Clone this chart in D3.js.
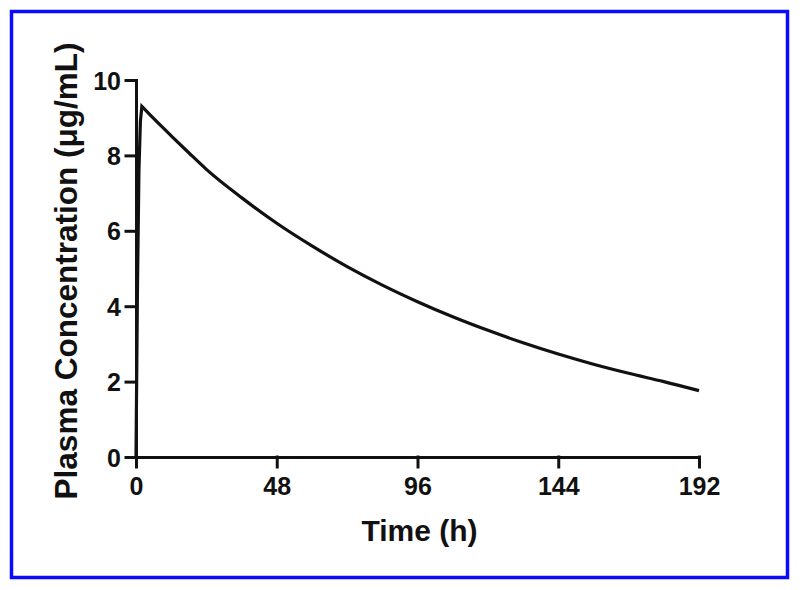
<!DOCTYPE html>
<html>
<head>
<meta charset="utf-8">
<script src="https://cdn.jsdelivr.net/npm/d3@7"></script>
<style>
  html, body { margin: 0; padding: 0; background: #fff; }
  svg { display: block; }
  text { font-family: "Liberation Sans", Arial, Helvetica, sans-serif; font-weight: bold; fill: #111; }
</style>
</head>
<body>
<script>
// Data
const timeH = [0, 0.5, 1, 1.5, 2, 6, 12, 18, 24, 36, 48, 60, 72, 84, 96, 108, 120, 132, 144, 156, 168, 180, 192];
const concentration = [0, 4.5, 7.6, 8.9, 9.3, 8.98, 8.52, 8.07, 7.63, 6.88, 6.2, 5.6, 5.05, 4.56, 4.12, 3.72, 3.36, 3.03, 2.73, 2.46, 2.22, 2.0, 1.76];
const peakIndex = 4;
const xTicks = [0, 48, 96, 144, 192];
const yTicks = [0, 2, 4, 6, 8, 10];
const xTitle = "Time (h)";
const yTitle = "Plasma Concentration (\u03bcg/mL)";

const W = 800, H = 590;
const mLeft = 136, mRight = 699, mTop = 80, mBottom = 457;

const svg = d3.select("body").append("svg").attr("width", W).attr("height", H);
svg.append("rect").attr("width", W).attr("height", H).attr("fill", "#fff");

// blue frame
svg.append("rect").attr("x", 11.5).attr("y", 11.5).attr("width", 776).attr("height", 566)
  .attr("fill", "none").attr("stroke", "#0a0aff").attr("stroke-width", 3.5);

const x = d3.scaleLinear().domain([0, 192]).range([mLeft, mRight]);
const y = d3.scaleLinear().domain([0, 10]).range([mBottom, mTop]);

const xAxis = svg.append("g").attr("transform", `translate(0,${mBottom})`)
  .call(d3.axisBottom(x).tickValues(xTicks).tickSize(10).tickSizeOuter(0).tickPadding(10));
const yAxis = svg.append("g").attr("transform", `translate(${mLeft},0)`)
  .call(d3.axisLeft(y).tickValues(yTicks).tickSize(10).tickSizeOuter(0).tickPadding(5));

[xAxis, yAxis].forEach(g => {
  g.selectAll("path, line").attr("stroke", "#111").attr("stroke-width", 3).attr("stroke-linecap", "square");
  g.selectAll("text").style("font-size", "25px").style("font-family", "Liberation Sans, Arial, sans-serif").style("font-weight", "bold").attr("fill", "#111");
});
yAxis.selectAll("text").attr("dy", "0.36em");

// curve: absorption phase (straight) + elimination phase (smooth)
const pts = timeH.map((t, i) => [t, concentration[i]]);
const rise = pts.slice(0, peakIndex + 1);
const decay = pts.slice(peakIndex);
const lineLin = d3.line().x(d => x(d[0])).y(d => y(d[1])).curve(d3.curveLinear);
const lineSmooth = d3.line().x(d => x(d[0])).y(d => y(d[1])).curve(d3.curveMonotoneX);
const curveD = lineLin(rise) + lineSmooth(decay).replace(/^M[^A-Za-z]*/, "");
svg.append("path").attr("d", curveD)
  .attr("fill", "none").attr("stroke", "#111").attr("stroke-width", 3.2).attr("stroke-linejoin", "miter");

// titles
svg.append("text").attr("x", (mLeft + mRight) / 2 + 2).attr("y", 541).attr("text-anchor", "middle")
  .style("font-size", "30px").text(xTitle);
svg.append("text").attr("transform", `translate(77,${(45 + 497) / 2}) rotate(-90)`).attr("text-anchor", "middle")
  .style("font-size", "31.5px").text(yTitle);
</script>
</body>
</html>
